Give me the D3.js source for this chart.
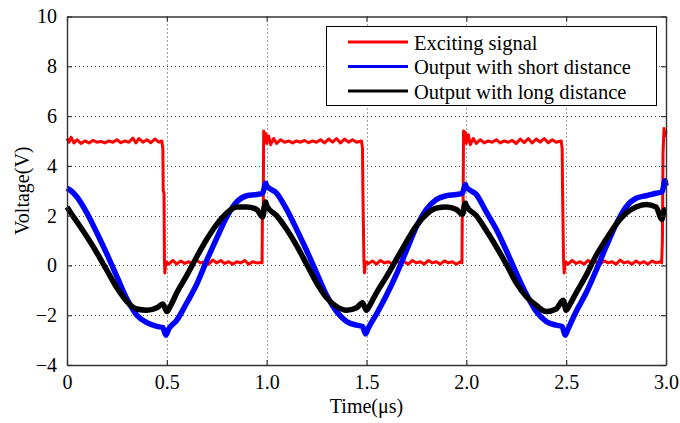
<!DOCTYPE html>
<html><head><meta charset="utf-8">
<script src="https://cdn.jsdelivr.net/npm/d3@7"></script>
<style>body{margin:0;background:#fff}svg{display:block}text{font-family:"Liberation Serif","Times New Roman",serif;fill:#000}</style>
</head><body><svg id="c" width="680" height="423"></svg>
<script>
const xTicks = [0, 0.5, 1.0, 1.5, 2.0, 2.5, 3.0];
const xTickLabels = ["0", "0.5", "1.0", "1.5", "2.0", "2.5", "3.0"];
const yTicks = [-4, -2, 0, 2, 4, 6, 8, 10];
const seriesNames = ["Exciting signal", "Output with short distance", "Output with long distance"];
const seriesColors = ["#ff0000", "#0000ff", "#000000"];

// Exciting signal [t(us), V]
const exciting = [
[0.000,5.10],[0.010,4.95],[0.020,5.15],[0.035,4.92],[0.050,5.05],[0.070,4.90],[0.090,5.00],[0.110,4.92],[0.130,5.02],[0.150,4.95],[0.170,4.98],[0.190,4.92],[0.210,5.00],[0.230,4.95],[0.250,5.05],[0.270,4.93],[0.290,5.00],[0.310,4.95],[0.330,5.12],[0.345,4.92],[0.360,5.10],[0.380,4.95],[0.400,5.05],[0.420,4.93],[0.440,5.08],[0.460,4.95],[0.475,5.00],[0.480,4.70],
[0.482,3.00],[0.486,2.90],[0.488,0.20],[0.490,-0.30],[0.495,0.15],
[0.510,0.05],[0.530,0.20],[0.550,0.05],[0.570,0.18],[0.590,0.08],[0.610,0.15],[0.630,0.05],[0.650,0.20],[0.670,0.10],[0.690,0.15],[0.710,0.05],[0.730,0.22],[0.750,0.10],[0.770,0.20],[0.790,0.08],[0.810,0.15],[0.830,0.05],[0.850,0.15],[0.870,0.10],[0.890,0.20],[0.910,0.05],[0.930,0.15],[0.950,0.10],[0.970,0.12],[0.977,0.10],
[0.979,2.30],[0.983,2.40],[0.985,5.40],[0.990,5.00],[0.995,5.30],[1.000,4.90],
[1.010,5.20],[1.020,4.85],[1.035,5.10],[1.050,4.90],[1.070,5.05],[1.090,4.95],[1.110,5.00],[1.130,4.92],[1.150,5.00],[1.170,4.95],[1.190,5.02],[1.210,4.93],[1.230,5.00],[1.250,4.95],[1.270,5.05],[1.290,4.92],[1.310,5.08],[1.330,4.95],[1.350,5.10],[1.370,4.92],[1.390,5.08],[1.410,4.95],[1.430,5.05],[1.450,4.95],[1.475,5.00],[1.480,4.70],
[1.482,3.00],[1.487,0.20],[1.490,-0.30],[1.495,0.15],
[1.510,0.08],[1.530,0.18],[1.550,0.05],[1.570,0.20],[1.590,0.10],[1.610,0.15],[1.630,0.05],[1.650,0.18],[1.670,0.08],[1.690,0.15],[1.710,0.05],[1.730,0.20],[1.750,0.10],[1.770,0.15],[1.790,0.05],[1.810,0.20],[1.830,0.10],[1.850,0.15],[1.870,0.05],[1.890,0.18],[1.910,0.10],[1.930,0.15],[1.950,0.05],[1.970,0.15],[1.978,0.10],
[1.980,2.30],[1.984,2.40],[1.986,5.40],[1.990,5.05],[1.995,5.35],[2.000,4.90],
[2.010,5.25],[2.020,4.85],[2.035,5.10],[2.050,4.90],[2.070,5.05],[2.090,4.92],[2.110,5.00],[2.130,4.95],[2.150,5.05],[2.170,4.92],[2.190,5.00],[2.210,4.95],[2.230,5.02],[2.250,4.90],[2.270,5.08],[2.290,4.93],[2.310,5.10],[2.330,4.92],[2.350,5.08],[2.370,4.95],[2.390,5.10],[2.410,4.93],[2.430,5.05],[2.450,4.95],[2.475,5.00],[2.480,4.70],
[2.482,3.00],[2.487,0.20],[2.490,-0.30],[2.495,0.15],
[2.510,0.05],[2.530,0.20],[2.550,0.08],[2.570,0.15],[2.590,0.05],[2.610,0.20],[2.630,0.10],[2.650,0.15],[2.670,0.05],[2.690,0.18],[2.710,0.10],[2.730,0.15],[2.750,0.05],[2.770,0.22],[2.790,0.10],[2.810,0.15],[2.830,0.05],[2.850,0.18],[2.870,0.08],[2.890,0.15],[2.910,0.05],[2.930,0.18],[2.950,0.10],[2.970,0.15],[2.978,0.10],
[2.982,1.00],[2.985,4.50],[2.990,5.50],[2.995,5.20],[3.000,5.40]
];

// Output with short distance [t(us), V]
const shortDist = [
[0,3.1],[0.02,3.0],[0.05,2.75],[0.1,2.1],[0.15,1.3],[0.2,0.45],[0.25,-0.45],[0.3,-1.35],[0.35,-2.0],[0.4,-2.3],[0.45,-2.45],[0.48,-2.5],[0.495,-2.8],[0.51,-2.55],[0.55,-2.2],[0.6,-1.5],[0.65,-0.75],[0.7,0.2],[0.75,1.1],[0.8,1.95],[0.85,2.55],[0.9,2.8],[0.95,2.85],[0.98,2.9],[0.995,3.3],[1.0,3.2],
[1.05,2.9],[1.1,2.25],[1.15,1.45],[1.2,0.6],[1.25,-0.3],[1.3,-1.2],[1.35,-1.85],[1.4,-2.25],[1.45,-2.4],[1.48,-2.45],[1.495,-2.75],[1.51,-2.5],[1.55,-1.95],[1.6,-1.2],[1.65,-0.35],[1.7,0.6],[1.75,1.55],[1.8,2.25],[1.85,2.65],[1.9,2.8],[1.95,2.85],[1.98,2.9],[1.995,3.25],[2.0,3.15],
[2.05,2.85],[2.1,2.15],[2.15,1.45],[2.2,0.6],[2.25,-0.3],[2.3,-1.15],[2.35,-1.85],[2.4,-2.25],[2.45,-2.4],[2.48,-2.45],[2.495,-2.8],[2.51,-2.55],[2.55,-1.85],[2.6,-1.1],[2.65,-0.2],[2.7,0.75],[2.75,1.65],[2.8,2.35],[2.85,2.7],[2.9,2.8],[2.95,2.9],[2.98,2.95],[2.995,3.4],[3.0,3.2]
];

// Output with long distance [t(us), V]
const longDist = [
[0,2.35],[0.02,2.1],[0.05,1.75],[0.1,1.15],[0.15,0.5],[0.2,-0.2],[0.25,-0.9],[0.3,-1.45],[0.35,-1.75],[0.4,-1.8],[0.45,-1.7],[0.48,-1.55],[0.5,-1.85],[0.52,-1.6],[0.55,-1.1],[0.6,-0.4],[0.65,0.35],[0.7,1.05],[0.75,1.65],[0.8,2.1],[0.85,2.35],[0.9,2.35],[0.95,2.25],[0.98,1.95],[0.995,2.55],[1.0,2.4],
[1.05,2.0],[1.1,1.45],[1.15,0.8],[1.2,0.05],[1.25,-0.7],[1.3,-1.3],[1.35,-1.65],[1.4,-1.8],[1.45,-1.7],[1.48,-1.5],[1.5,-1.8],[1.52,-1.55],[1.55,-1.1],[1.6,-0.45],[1.65,0.25],[1.7,0.95],[1.75,1.6],[1.8,2.05],[1.85,2.3],[1.9,2.35],[1.95,2.25],[1.98,2.05],[1.995,2.5],[2.0,2.4],
[2.05,2.0],[2.1,1.4],[2.15,0.75],[2.2,0.05],[2.25,-0.7],[2.3,-1.25],[2.35,-1.6],[2.4,-1.85],[2.45,-1.75],[2.485,-1.4],[2.5,-1.8],[2.52,-1.55],[2.55,-1.1],[2.6,-0.4],[2.65,0.4],[2.7,1.05],[2.75,1.65],[2.8,2.1],[2.85,2.35],[2.9,2.45],[2.95,2.35],[2.98,1.85],[2.99,2.2],[3.0,2.25]
];

const svg = d3.select("#c");
const L = 67, R = 666, T = 16.5, B = 365;
const x = d3.scaleLinear().domain([0, 3]).range([L, R]);
const y = d3.scaleLinear().domain([-4, 10]).range([B, T]);

// grid
const grid = svg.append("g").attr("stroke", "#444").attr("stroke-width", 1).attr("stroke-dasharray", "1,3");
grid.selectAll(".gx").data(xTicks.slice(1, -1)).join("line")
  .attr("x1", d => Math.round(x(d)) + 0.5).attr("x2", d => Math.round(x(d)) + 0.5).attr("y1", T).attr("y2", B);
grid.selectAll(".gy").data(yTicks.slice(1, -1)).join("line")
  .attr("y1", d => Math.round(y(d)) + 0.5).attr("y2", d => Math.round(y(d)) + 0.5).attr("x1", L).attr("x2", R);

// series
const clip = svg.append("clipPath").attr("id", "pc").append("rect").attr("x", L).attr("y", T).attr("width", R - L).attr("height", B - T);
const lineLin = d3.line().x(d => x(d[0])).y(d => y(d[1]));
const lineSm = d3.line().x(d => x(d[0])).y(d => y(d[1])).curve(d3.curveMonotoneX);
const plot = svg.append("g");
plot.append("path").datum(exciting).attr("d", lineLin).attr("fill", "none").attr("stroke", seriesColors[0]).attr("stroke-width", 3).attr("stroke-linejoin", "round");
plot.append("path").datum(shortDist).attr("d", lineSm).attr("fill", "none").attr("stroke", seriesColors[1]).attr("stroke-width", 5.5).attr("stroke-linejoin", "round");
plot.append("path").datum(longDist).attr("d", lineSm).attr("fill", "none").attr("stroke", seriesColors[2]).attr("stroke-width", 5.5).attr("stroke-linejoin", "round");

// axes
const ax = svg.append("g").attr("stroke", "#333").attr("stroke-width", 1.2);
const axB = d3.axisBottom(x).tickValues(xTicks).tickFormat((d, i) => xTickLabels[i]).tickSizeInner(-5).tickSizeOuter(0).tickPadding(10);
const axT = d3.axisTop(x).tickValues(xTicks).tickFormat("").tickSizeInner(-5).tickSizeOuter(0);
const axLf = d3.axisLeft(y).tickValues(yTicks).tickFormat(d => d < 0 ? "\u2212" + Math.abs(d) : String(d)).tickSizeInner(-5).tickSizeOuter(0).tickPadding(10);
const axRt = d3.axisRight(y).tickValues(yTicks).tickFormat("").tickSizeInner(-5).tickSizeOuter(0);
function style(g) {
  g.select(".domain").attr("stroke", "#333").attr("stroke-width", 1.4);
  g.selectAll(".tick line").attr("stroke", "#333").attr("stroke-width", 1.2);
  g.selectAll("text").attr("font-family", "Liberation Serif").attr("font-size", 20).attr("fill", "#000");
}
svg.append("g").attr("transform", `translate(0,${B})`).call(axB).call(style);
svg.append("g").attr("transform", `translate(0,${T})`).call(axT).call(style);
svg.append("g").attr("transform", `translate(${L},0)`).call(axLf).call(style);
svg.append("g").attr("transform", `translate(${R},0)`).call(axRt).call(style);

// axis titles
svg.append("text").attr("x", (L + R) / 2).attr("y", 413).attr("text-anchor", "middle").attr("font-size", 20).text("Time(\u03bcs)");
svg.append("text").attr("transform", `translate(29,${(T + B) / 2}) rotate(-90)`).attr("text-anchor", "middle").attr("font-size", 20).text("Voltage(V)");

// legend
const lg = svg.append("g");
lg.append("rect").attr("x", 326.5).attr("y", 26.5).attr("width", 330).attr("height", 79).attr("fill", "#fff").attr("stroke", "#000").attr("stroke-width", 1);
const rows = [42, 66.5, 91];
seriesNames.forEach((n, i) => {
  lg.append("line").attr("x1", 348).attr("x2", 408).attr("y1", rows[i]).attr("y2", rows[i]).attr("stroke", seriesColors[i]).attr("stroke-width", 3);
  lg.append("text").attr("x", 414).attr("y", rows[i] + 7.5).attr("font-size", 20.5).text(n);
});
</script></body></html>
